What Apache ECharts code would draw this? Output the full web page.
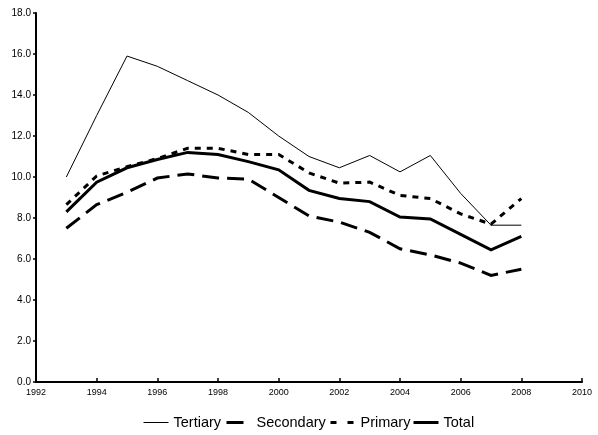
<!DOCTYPE html>
<html><head><meta charset="utf-8">
<script src="https://cdn.jsdelivr.net/npm/echarts@6/dist/echarts.min.js"></script>
<style>html,body{margin:0;padding:0;background:#fff}#c{width:598px;height:435px}</style>
</head><body><div id="c"></div>
<script>
var years = [1993,1994,1995,1996,1997,1998,1999,2000,2001,2002,2003,2004,2005,2006,2007,2008];
var tertiary = [10.0,13.0,15.9,15.4,14.7,14.0,13.15,12.0,11.0,10.45,11.05,10.25,11.05,9.2,7.65,7.65];
var secondary = [7.5,8.65,9.25,9.95,10.15,9.95,9.9,9.0,8.1,7.8,7.3,6.5,6.2,5.8,5.2,5.5];
var primary = [8.65,10.05,10.5,10.9,11.4,11.4,11.1,11.1,10.2,9.7,9.75,9.1,8.95,8.2,7.7,8.95];
var total = [8.3,9.75,10.45,10.85,11.2,11.1,10.75,10.35,9.35,8.95,8.8,8.05,7.95,7.2,6.45,7.1];
var seriesNames = ['Tertiary','Secondary','Primary','Total'];

function pairs(vals){ return years.map(function(y,i){ return [y, vals[i]]; }); }
var FONT = '"Liberation Sans", Arial, sans-serif';
var chart = echarts.init(document.getElementById('c'), null, {renderer:'canvas'});
function mk(name, vals, width, type){
  return {name:name, type:'line', data:pairs(vals), symbol:'none', silent:true,
    lineStyle:{color:'#000', width:width, type:type, cap:'butt', join:'miter'},
    itemStyle:{color:'#000'}, animation:false};
}
var legendLefts = [143, 225, 329, 412];
var legendWidths = [1, 3, 3, 3];
var legendTypes = ['solid', [17,8], [6,11], 'solid'];
var legends = seriesNames.map(function(n, i){
  return {data:[n], left:legendLefts[i], top:415, padding:0, itemWidth:25, itemHeight:14, itemGap:0,
    selectedMode:false, itemStyle:{opacity:0, borderWidth:0},
    lineStyle:{width:legendWidths[i], type:legendTypes[i], color:'#000', cap:'butt'},
    textStyle:{color:'#000', fontSize:14.5, fontFamily:FONT}};
});
chart.setOption({
  backgroundColor:'#fff',
  animation:false,
  grid:{left:36, right:16, top:13, bottom:53, containLabel:false},
  xAxis:{type:'value', min:1992, max:2010, interval:2,
    axisLine:{show:true, onZero:false, lineStyle:{color:'#000', width:2}},
    axisTick:{show:true, inside:true, length:4, lineStyle:{color:'#000', width:1.5}},
    axisLabel:{color:'#000', fontSize:9, fontFamily:FONT, margin:6, formatter:function(v){return String(v);}},
    splitLine:{show:false}},
  yAxis:{type:'value', min:0, max:18, interval:2,
    axisLine:{show:true, lineStyle:{color:'#000', width:2}},
    axisTick:{show:true, inside:false, length:3, lineStyle:{color:'#000', width:1.5}},
    axisLabel:{color:'#000', fontSize:10, fontFamily:FONT, margin:5, formatter:function(v){return v.toFixed(1);}},
    splitLine:{show:false}},
  legend:legends,
  series:[
    mk('Tertiary', tertiary, 1, 'solid'),
    mk('Secondary', secondary, 3, [17,8]),
    mk('Primary', primary, 3, [6,6]),
    mk('Total', total, 3, 'solid')
  ]
});
</script></body></html>
